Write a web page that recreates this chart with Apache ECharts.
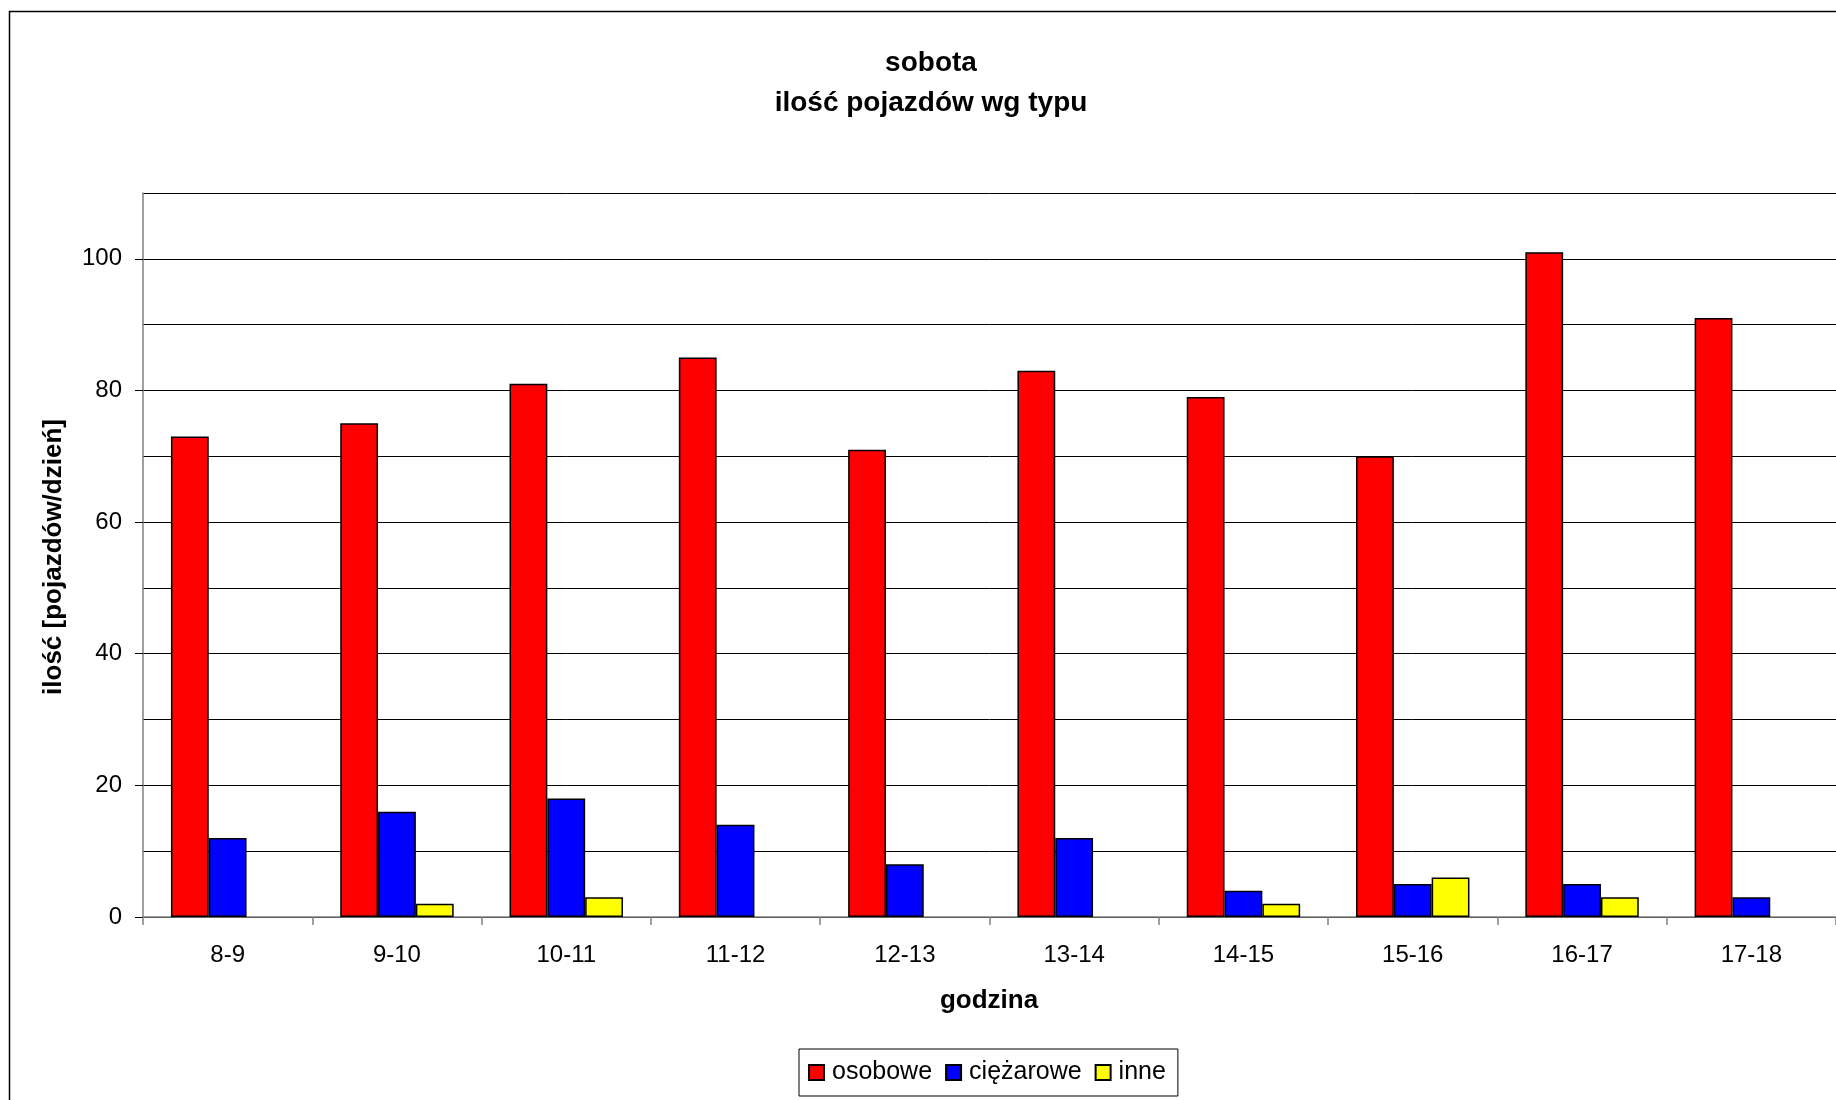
<!DOCTYPE html>
<html>
<head>
<meta charset="utf-8">
<title>sobota – ilość pojazdów wg typu</title>
<script src="https://cdn.jsdelivr.net/npm/echarts@6/dist/echarts.min.js"></script>
<style>
  html, body { margin: 0; padding: 0; background: #fff; }
  #chart { width: 1836px; height: 1100px; }
</style>
</head>
<body>
<div id="chart"></div>
<script>
// Hourly vehicle counts on Saturday, by vehicle type
const hours = ['8-9', '9-10', '10-11', '11-12', '12-13', '13-14', '14-15', '15-16', '16-17', '17-18'];
const osobowe = [73, 75, 81, 85, 71, 83, 79, 70, 101, 91];
const ciezarowe = [12, 16, 18, 14, 8, 12, 4, 5, 5, 3];
const inne = [0, 2, 3, 0, 0, 0, 2, 6, 3, 0];
const yLabelValues = [0, 20, 40, 60, 80, 100];

const FONT = '"Liberation Sans", Arial, sans-serif';

// zero-height bars get no outline so nothing is drawn on the axis
function barData(values) {
  return values.map(v => (v === 0 ? { value: 0, itemStyle: { borderWidth: 0 } } : v));
}

function barSeries(name, color, values) {
  return {
    name: name,
    type: 'bar',
    yAxisIndex: 0,
    data: barData(values),
    barGap: '0%',
    barCategoryGap: '33%',
    itemStyle: { color: color, borderColor: '#000', borderWidth: 1.5 },
    emphasis: { disabled: true }
  };
}

const chart = echarts.init(document.getElementById('chart'), null, { renderer: 'canvas' });

chart.setOption({
  animation: false,
  backgroundColor: '#fff',
  textStyle: { fontFamily: FONT, color: '#000' },
  grid: { left: 143, top: 193, right: 0, bottom: 183, containLabel: false },
  xAxis: {
    type: 'category',
    data: hours,
    axisLine: { lineStyle: { color: '#808080', width: 1.5 } },
    axisTick: { show: true, length: 8, lineStyle: { color: '#808080', width: 1.5 } },
    axisLabel: { color: '#000', fontSize: 24, fontFamily: FONT, margin: 26 },
    splitLine: { show: false }
  },
  yAxis: [
    {
      // gridlines every 10
      type: 'value',
      position: 'left',
      min: 0,
      max: 110,
      interval: 10,
      axisLine: { show: false },
      axisTick: { show: false },
      axisLabel: { show: false },
      splitLine: { show: true, lineStyle: { color: '#000', width: 1 } }
    },
    {
      // labelled scale every 20
      type: 'value',
      position: 'left',
      offset: 0,
      min: 0,
      max: 110,
      interval: 10,
      axisLine: { show: true, lineStyle: { color: '#808080', width: 1.5 } },
      axisTick: {
        show: true, length: 8, customValues: yLabelValues,
        lineStyle: { color: '#000', width: 1 }
      },
      axisLabel: {
        color: '#000', fontSize: 24, fontFamily: FONT, margin: 21,
        customValues: yLabelValues
      },
      splitLine: { show: false }
    }
  ],
  legend: {
    left: 799,
    top: 1049,
    orient: 'horizontal',
    itemWidth: 15,
    itemHeight: 15,
    itemGap: 13,
    padding: [11, 12, 11, 9],
    borderColor: '#000',
    borderWidth: 1,
    icon: 'rect',
    selectedMode: false,
    textStyle: { fontSize: 25, fontFamily: FONT, color: '#000', padding: [0, 0, 0, 3] },
    data: ['osobowe', 'ciężarowe', 'inne']
  },
  series: [
    barSeries('osobowe', '#ff0000', osobowe),
    barSeries('ciężarowe', '#0000ff', ciezarowe),
    barSeries('inne', '#ffff00', inne)
  ],
  graphic: [
    {
      type: 'rect',
      shape: { x: 9.5, y: 11.5, width: 1900, height: 1200 },
      style: { fill: 'none', stroke: '#000', lineWidth: 1.5 },
      silent: true
    },
    {
      type: 'text', x: 931, y: 63,
      style: {
        text: 'sobota', font: 'bold 28px ' + FONT, fill: '#000',
        textAlign: 'center', textVerticalAlign: 'middle'
      }
    },
    {
      type: 'text', x: 931, y: 103,
      style: {
        text: 'ilość pojazdów wg typu', font: 'bold 28px ' + FONT, fill: '#000',
        textAlign: 'center', textVerticalAlign: 'middle'
      }
    },
    {
      type: 'text', x: 989, y: 1001,
      style: {
        text: 'godzina', font: 'bold 26px ' + FONT, fill: '#000',
        textAlign: 'center', textVerticalAlign: 'middle'
      }
    },
    {
      type: 'text', x: 54, y: 557, rotation: Math.PI / 2,
      style: {
        text: 'ilość [pojazdów/dzień]', font: 'bold 26px ' + FONT, fill: '#000',
        textAlign: 'center', textVerticalAlign: 'middle'
      }
    }
  ]
});
</script>
</body>
</html>
